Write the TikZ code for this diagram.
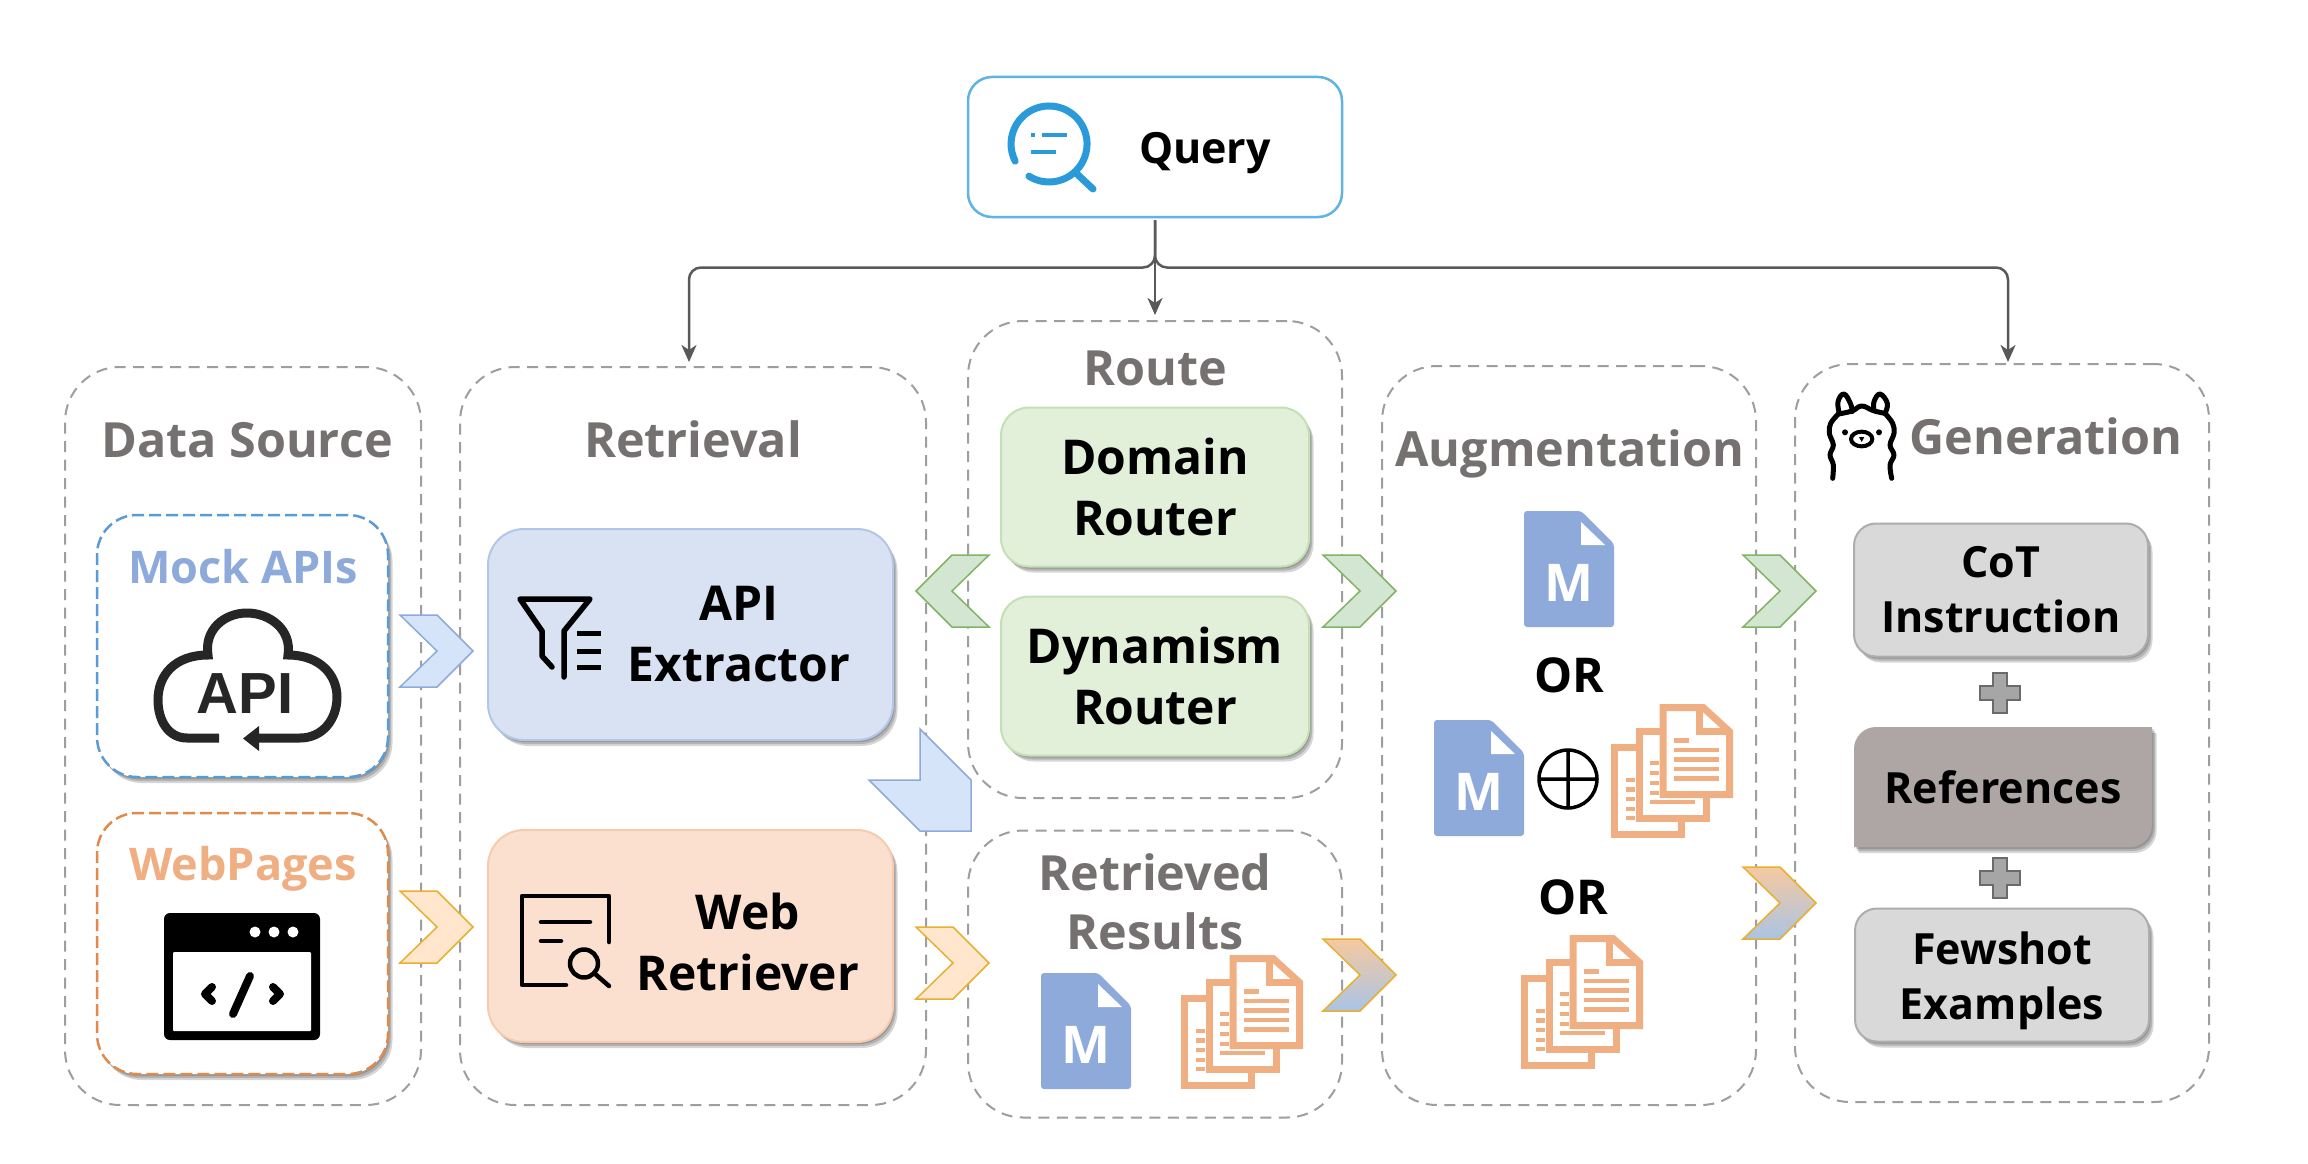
\documentclass[tikz,border=0pt]{standalone}
\usepackage{fontspec}
\setmainfont{Open Sans}
\usetikzlibrary{shadows,arrows.meta}
\definecolor{hdr}{HTML}{767171}
\definecolor{mblue}{HTML}{8EAADB}
\definecolor{morange}{HTML}{F0AF82}
\definecolor{qblue}{HTML}{2A9BD8}
\definecolor{routefill}{HTML}{E2EFD9}
\definecolor{routeedge}{HTML}{C5E0B3}
\definecolor{chblue}{HTML}{D6E4FA}
\definecolor{chorange}{HTML}{FFE6CC}
\definecolor{chgold}{HTML}{E8B030}
\definecolor{chgreen}{HTML}{D2E6D2}
\definecolor{chgreenedge}{HTML}{82B366}
\definecolor{srcblue}{HTML}{5B9BD5}
\definecolor{srcorange}{HTML}{E08A4C}
\definecolor{extractfill}{HTML}{D9E2F3}
\definecolor{extractedge}{HTML}{B4C6E7}
\definecolor{webfill}{HTML}{FBE0D0}
\definecolor{webedge}{HTML}{F8CBAD}
\definecolor{refgray}{HTML}{AEA5A5}
\definecolor{gradtop}{HTML}{F6C9A0}
\definecolor{gradbot}{HTML}{A9C4E6}
\newcommand{\fs}[2]{\bfseries\fontsize{#1}{#2}\selectfont}
\tikzset{
  softshadow/.style={
    drop shadow={shadow xshift=1.5pt,shadow yshift=-2pt,fill=black,opacity=.16},
    drop shadow={shadow xshift=3pt,shadow yshift=-4pt,fill=black,opacity=.16},
    drop shadow={shadow xshift=4.5pt,shadow yshift=-6pt,fill=black,opacity=.16}},
  group/.style={draw=black!38,line width=2pt,dash pattern=on 11pt off 7.5pt,rounded corners=55pt,inner sep=0},
  srcbox/.style={line width=2.5pt,dash pattern=on 12pt off 5pt,fill=white,rounded corners=40pt,softshadow,inner sep=0},
  modbox/.style={line width=2pt,rounded corners=36pt,softshadow,inner sep=0,align=center},
  routebox/.style={modbox,draw=routeedge,fill=routefill,rounded corners=28pt,minimum width=308pt,minimum height=159pt,font=\fs{48}{61}},
  genbox/.style={modbox,draw=black!32,fill=black!15,rounded corners=22pt,minimum width=294pt,minimum height=133pt,font=\fs{43}{55}},
  sectitle/.style={text=hdr,font=\fs{48.5}{59},inner sep=0,align=center},
  boxtext/.style={text=black,font=\fs{48}{61},inner sep=0,align=center},
  conn/.style={draw=black!65,line width=2.5pt,rounded corners=12pt,-{Stealth[length=17pt,width=15pt,inset=5pt]}},
  ic/.style={line width=6pt,draw=black,line cap=round,line join=round},
  chevblue/.style={fill=chblue,draw=mblue,line width=1.5pt},
  chevorange/.style={fill=chorange,draw=chgold,line width=1.5pt},
  chevgreen/.style={fill=chgreen,draw=chgreenedge,line width=1.5pt},
  pg/.style={draw=morange,line width=7pt,fill=white,line join=miter},
  pgl/.style={draw=morange,line width=4.7pt},
}
\newcommand{\chevpath}[3]{(#1,#2) -- ++(#3*37,0) -- ++(#3*36,36) -- ++(-#3*36,36) -- ++(-#3*37,0) -- ++(#3*37,-36) -- cycle}
\newcommand{\plusmark}[2]{\draw[fill=black!35,draw=black!58,line width=2pt,shift={(#1,#2)}] (-7,-20) -- (7,-20) -- (7,-7) -- (20,-7) -- (20,7) -- (7,7) -- (7,20) -- (-7,20) -- (-7,7) -- (-20,7) -- (-20,-7) -- (-7,-7) -- cycle;}
\newcommand{\mdoc}[3]{%
  \begin{scope}[shift={(#2,#3)}]
  \fill[mblue,rounded corners=3pt] (0,0) -- (57,0) -- (90,33) -- (90,116) -- (0,116) -- cycle;
  \fill[white] (57,11) -- (57,34) -- (81,34) -- cycle;
  \node[text=white,font=\fs{52}{60},inner sep=0] (#1) at (45,72) {M};
  \end{scope}}
\newcommand{\docstack}[2]{%
  \begin{scope}[shift={(#1,#2)}]
  \draw[pg] (3.7,43.7) rectangle (70,130.7);
  \draw[pgl] (14.7,76) -- (24,76) (14.7,85.3) -- (24,85.3) (14.7,95) -- (24,95) (14.7,105) -- (24,105) (14.7,114) -- (24,114);
  \draw[pg] (28,27) rectangle (95,114);
  \draw[pgl] (39,59) -- (48,59) (39,69) -- (48,69) (39,79) -- (48,79) (39,89) -- (48,89) (39,98) -- (84,98);
  \draw[pg] (52,3.7) -- (92.3,3.7) -- (118.7,27.7) -- (118.7,90.7) -- (52,90.7) -- cycle;
  \draw[pg,fill=none] (88,3.7) -- (88,27.7) -- (118.7,27.7);
  \draw[pgl] (63,36.7) -- (78,36.7) (63,46) -- (108,46) (63,55.3) -- (108,55.3) (63,65) -- (108,65) (63,74.7) -- (108,74.7);
  \end{scope}}
\begin{document}
\begin{tikzpicture}[x=1pt,y=-1pt]
\useasboundingbox (0,0) rectangle (2308,1164);
\fill[white] (0,0) rectangle (2308,1164);

% groups
\node[group,minimum width=356pt,minimum height=738pt] (datasource) at (243,736) {};
\node[group,minimum width=466pt,minimum height=738pt] (retrieval) at (693,736) {};
\node[group,minimum width=374pt,minimum height=477pt] (route) at (1155,559.5) {};
\node[group,minimum width=374pt,minimum height=287pt] (results) at (1155,974) {};
\node[group,minimum width=374pt,minimum height=739pt] (augment) at (1569,735.5) {};
\node[group,minimum width=414pt,minimum height=738pt] (generation) at (2002,733) {};

% query
\node[draw=qblue!75,line width=2.5pt,rounded corners=24pt,minimum width=374pt,minimum height=140pt,inner sep=0] (query) at (1155,147) {};
\node[font=\fs{43}{50},inner sep=0] (querytext) at (1205,153) {Query};
\draw[qblue,line width=7pt,line cap=round] (1028.9,176.2) arc[start angle=122,delta angle=-329,radius=38];
\draw[qblue,line width=7pt,line cap=round] (1077,174) -- (1093,189);
\draw[qblue,line width=4pt] (1031,135) -- (1035,135) (1042,135) -- (1067,135) (1031,152) -- (1056,152);

% connectors
\coordinate (bus) at (1155,267.5);
\coordinate (retrtop) at (689,362);
\coordinate (gentop) at (2008,362);
\coordinate (routetop) at (1155,315);
\draw[conn,shorten <=2pt] (query.south) |- (bus -| retrtop) -- (retrtop);
\draw[conn,shorten <=2pt] (query.south) |- (bus -| gentop) -- (gentop);
\draw[conn,shorten <=2pt,rounded corners=0pt] (query.south) -- (routetop);

% titles
\node[sectitle] (tds) at (247,440) {Data Source};
\node[sectitle] (tre) at (693,439) {Retrieval};
\node[sectitle] (tro) at (1155,368) {Route};
\node[sectitle] (tau) at (1570,454) {Augmentation};
\node[sectitle] (tge) at (2046,436.5) {Generation};
\node[sectitle] (trr) at (1155,902) {Retrieved\\Results};

% data sources
\node[srcbox,draw=srcblue,minimum width=291pt,minimum height=262pt] (mock) at (242.5,646) {};
\node[text=mblue,font=\fs{45}{50},inner sep=0] (mocktext) at (243,567) {Mock APIs};
\node[srcbox,draw=srcorange,minimum width=291pt,minimum height=261pt] (web) at (242.5,943.5) {};
\node[text=morange,font=\fs{45}{50},inner sep=0] (webtext) at (243,869) {WebPages};

% API cloud
\draw[line width=9pt,draw=black!85] (219,738) -- (187,738) .. controls (168,738) and (158,720) .. (158,700) .. controls (158,675) and (175,655) .. (208,655) .. controls (204,630) and (224,613) .. (247,613) .. controls (270,613) and (292,630) .. (288,655) .. controls (320,655) and (337,675) .. (337,697) .. controls (337,720) and (322,738) .. (300,738) -- (258,738);
\fill[black!85] (243,738.5) -- (259,726) -- (259,751) -- cycle;
\node[font=\bfseries\fontsize{58}{60}\selectfont,text=black!85,inner sep=0] (apiglyph) at (245,694) {\fontspec{Liberation Sans}\bfseries API};

% browser
\fill[black,rounded corners=6pt] (164,913) rectangle (320,1040);
\fill[white,rounded corners=1pt] (173,952) rectangle (311,1031);
\fill[white] (255,932) circle (5.5) (274,932) circle (5.5) (293,932) circle (5.5);
\draw[black,line width=8pt,line join=round,line cap=round] (212,987) -- (205,994) -- (212,1001) (250,976) -- (233,1014) (273,987) -- (280,994) -- (273,1001);

% modules
\node[modbox,draw=extractedge,fill=extractfill,minimum width=405pt,minimum height=211pt] (extract) at (690.5,634.5) {};
\node[boxtext] (extracttext) at (739,634) {API\\Extractor};
\node[modbox,draw=webedge,fill=webfill,minimum width=405pt,minimum height=212pt] (webret) at (690.5,936) {};
\node[boxtext] (webrettext) at (748,942) {Web\\Retriever};

% funnel
\draw[ic,line width=5.5pt] (542,631) -- (520,599) -- (590,599) -- (564,631) -- (564,677);
\draw[ic,line width=5.5pt] (542,631) -- (542,656) -- (552,667);
\draw[ic,line width=5pt,line cap=butt] (577,633) -- (601,633) (577,651) -- (601,651) (577,667) -- (601,667);
% web retriever icon
\draw[ic,line width=4.5pt] (609,942) -- (609,896) -- (522,896) -- (522,985) -- (566,985);
\draw[ic,line width=4.5pt] (541,922) -- (590,922) (541,941) -- (561,941);
\draw[ic,line width=4.5pt] (584,963.5) circle (14);
\draw[ic,line width=4.5pt] (594,973) -- (609,986);

% route
\node[routebox] (domain) at (1155,487) {Domain\\Router};
\node[routebox] (dynamism) at (1155,676) {Dynamism\\Router};

% generation boxes
\node[genbox] (cot) at (2001,590) {CoT\\Instruction};
\path[fill=refgray,softshadow,rounded corners=0pt] (1854,847) -- (1854,749) [rounded corners=22pt] -- (1854,727) [rounded corners=0pt] -- (2152,727) -- (2152,825) [rounded corners=22pt] -- (2152,847) [rounded corners=0pt] -- cycle;
\node[font=\fs{43}{55},inner sep=0] (refs) at (2003,787) {References};
\node[genbox] (few) at (2002,975) {};
\node[font=\fs{43}{55},inner sep=0,align=center] (fewtext) at (2002,981) {Fewshot\\Examples};
\plusmark{2000}{693}
\plusmark{2000}{878}

% llama
\begin{scope}[shift={(1810,380)},scale=1/3]
\draw[line width=5pt,line join=round,line cap=round] plot[smooth,tension=.6] coordinates {(68,295) (70,255) (60,225) (70,195) (58,160) (62,130) (85,102)};
\draw[line width=5pt,line join=round,line cap=round] plot[smooth,tension=.7] coordinates {(88,100) (84,65) (102,42) (122,72) (126,95)};
\draw[line width=5pt,line join=round,line cap=round] plot[smooth,tension=.7] coordinates {(85,102) (126,93) (155,78) (190,92) (225,100)};
\draw[line width=5pt,line join=round,line cap=round] plot[smooth,tension=.7] coordinates {(192,92) (192,65) (210,42) (232,70) (225,100)};
\draw[line width=5pt,line join=round,line cap=round] plot[smooth,tension=.6] coordinates {(225,100) (248,130) (252,160) (240,195) (252,225) (240,255) (245,295)};
\draw[line width=4pt] (155,177) ellipse[x radius=32,y radius=22];
\fill (105,157) circle (9) (207,157) circle (9);
\fill (147,171) -- (163,171) -- (155,186) -- cycle;
\end{scope}

% docs
\mdoc{mone}{1524}{511}
\node[font=\fs{48}{55},inner sep=0] (orone) at (1569,675) {OR};
\mdoc{mtwo}{1434}{720}
\draw[line width=3.5pt] (1568,779) circle (29) (1539,779) -- (1597,779) (1568,750) -- (1568,808);
\docstack{1611}{704}
\node[font=\fs{48}{55},inner sep=0] (ortwo) at (1573,897) {OR};
\docstack{1521}{935}
\mdoc{mthree}{1041}{973}
\docstack{1181}{955}

% chevrons
\path[chevblue] \chevpath{400}{615}{1};
\path[chevorange] \chevpath{400}{891}{1};
\path[chevorange] \chevpath{916}{927}{1};
\path[chevgreen] \chevpath{989}{555}{-1};
\path[chevgreen] \chevpath{1323}{555}{1};
\path[chevgreen] \chevpath{1743}{555}{1};
\path[top color=gradtop,bottom color=gradbot,draw=chgold,line width=1.5pt] \chevpath{1323}{939}{1};
\path[top color=gradtop,bottom color=gradbot,draw=chgold,line width=1.5pt] \chevpath{1743}{867}{1};
\path[chevblue] (920,729) -- (971,780) -- (971,831) -- (920,831) -- (869,780) -- (920,780) -- cycle;
\end{tikzpicture}
\end{document}
